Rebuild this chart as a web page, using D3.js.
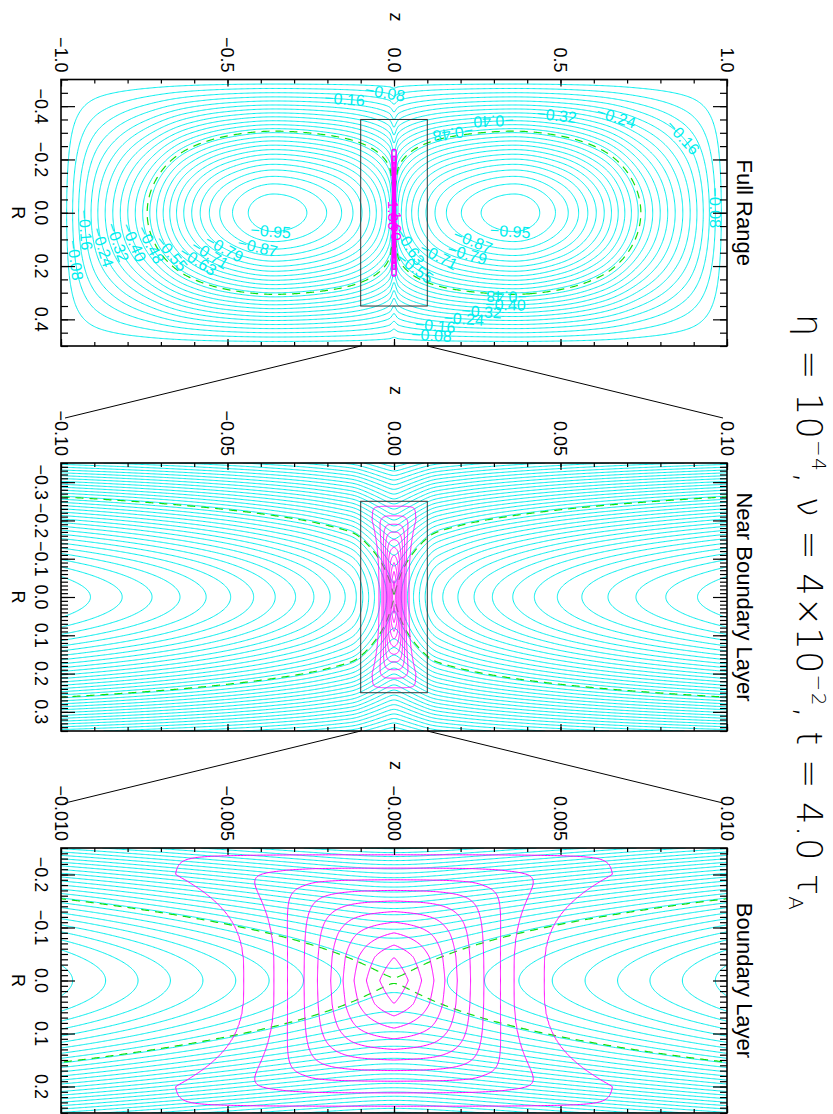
<!DOCTYPE html>
<html>
<head>
<meta charset="utf-8">
<script src="https://cdn.jsdelivr.net/npm/d3@7"></script>
<style>
  body { margin: 0; background: #fff; }
  svg { display: block; }
  text { font-family: "Liberation Sans", Arial, sans-serif; }
</style>
</head>
<body>
<svg id="chart" width="833" height="1114"></svg>
<script>
// ---- values ----
const panelTitles = ["Full Range", "Near Boundary Layer", "Boundary Layer"];
const zHalfRange = [1.0, 0.1, 0.01];
const rHalfRange = [0.5, 0.35, 0.25];
const zMajorTicks = [[-1, -0.5, 0, 0.5, 1], [-0.1, -0.05, 0, 0.05, 0.1], [-0.01, -0.005, 0, 0.005, 0.01]];
const zTickLabels = [["−1.0", "−0.5", "0.0", "0.5", "1.0"],
                     ["−0.10", "−0.05", "0.00", "0.05", "0.10"],
                     ["−0.010", "−0.005", "−0.000", "0.005", "0.010"]];
const zMinorStep = [0.1, 0.01, 0.001];
const rMajorTicks = [[-0.4, -0.2, 0, 0.2, 0.4], [-0.3, -0.2, -0.1, 0, 0.1, 0.2, 0.3], [-0.2, -0.1, 0, 0.1, 0.2]];
const rTickLabels = [["−0.4", "−0.2", "0.0", "0.2", "0.4"],
                     ["−0.3", "−0.2", "−0.1", "0.0", "0.1", "0.2", "0.3"],
                     ["−0.2", "−0.1", "0.0", "0.1", "0.2"]];
const rMinorStep = [0.05, 0.01, 0.01];
const psiLevelStep = [0.0396, 0.016, 0.0089];

// stream function along R = 0 outside the sheet, and the dip inside the sheet
const psiProfileZ = [0, 0.028, 0.1, 0.2, 0.36, 0.5, 0.62, 0.74, 0.83, 0.9, 1.0];
const psiProfileQ = [0.56, 0.655, 0.80, 0.91, 0.98, 0.895, 0.73, 0.5, 0.34, 0.215, 0];
const sheetDip = 0.06, sheetWidth = 0.0105;

// current density: half width at R=0, extra half width reached at R=0.2,
// and half length at z=0, for each magenta level
const jLevels = [1, 2, 3, 4, 5, 6, 7, 8, 9, 10];
const jHalfWidth = [0.0045, 0.0036, 0.0032, 0.0027, 0.0023, 0.0019, 0.00153, 0.0012, 0.00083, 0.00043];
const jWiden = [0.0021, 0.00096, 0.0002, 0, 0, 0, 0, 0, 0, 0];
const jHalfLength = [0.237, 0.212, 0.19, 0.17, 0.15, 0.13, 0.11, 0.09, 0.067, 0.044];

// contour labels of the full range panel: position (z, R) and level number
const labelZ = [-0.949, -0.928, -0.883, -0.832, -0.784, -0.742, -0.667, -0.592, -0.544, -0.508, -0.411, -0.372,
                -0.147, -0.027,
                0.297, 0.489, 0.67, 0.865, 0.964, 0.177, 0.348, 0.237, 0.219, 0.138, 0.063, 0.069,
                0.339, 0.333, 0.264, 0.207, 0.123, 0.114];
const labelR = [0.177, 0.065, 0.132, 0.113, 0.113, 0.128, 0.151, 0.185, 0.14, 0.132, 0.132, 0.084,
                -0.432, -0.459,
                -0.358, -0.366, -0.366, -0.283, -0.017, -0.302, 0.09, 0.102, 0.158, 0.151, 0.114, 0.2,
                0.308, 0.357, 0.383, 0.409, 0.439, 0.469];
const labelK = [2, 4, 6, 8, 10, 12, 14, 16, 18, 20, 22, 24,
                4, 2,
                10, 8, 6, 4, 2, 12, 24, 22, 20, 18, 16, 14,
                12, 10, 8, 6, 4, 2];
const labelFlipped = [14, 19, 26];

const cyan = "#00eeee", magenta = "#ff00ff", green = "#11dd11";
const xLeft = 61, xRight = 727;
const panelTop = [79.5, 463, 848], panelBottom = [346, 731, 1113];

const svg = d3.select("#chart");

function monotone(xs, ys) {
  const n = xs.length, d = [], m = new Array(n);
  for (let i = 0; i < n - 1; i++) d[i] = (ys[i + 1] - ys[i]) / (xs[i + 1] - xs[i]);
  m[0] = d[0]; m[n - 1] = d[n - 2];
  for (let i = 1; i < n - 1; i++) m[i] = d[i - 1] * d[i] <= 0 ? 0 : (d[i - 1] + d[i]) / 2;
  for (let i = 0; i < n - 1; i++) {
    if (d[i] === 0) continue;
    const a = m[i] / d[i], b = m[i + 1] / d[i], s = a * a + b * b;
    if (s > 9) { const t = 3 / Math.sqrt(s); m[i] = t * a * d[i]; m[i + 1] = t * b * d[i]; }
  }
  return x => {
    const i = Math.max(0, Math.min(n - 2, d3.bisectRight(xs, x) - 1));
    const h = xs[i + 1] - xs[i], t = (x - xs[i]) / h, t2 = t * t, t3 = t2 * t;
    return (2 * t3 - 3 * t2 + 1) * ys[i] + (t3 - 2 * t2 + t) * h * m[i]
         + (-2 * t3 + 3 * t2) * ys[i + 1] + (t3 - t2) * h * m[i + 1];
  };
}

const qOuter = monotone(psiProfileZ, psiProfileQ);
const smoothAbs = z => Math.sqrt(z * z + 1.44e-6) - 0.0012;
const softMin = (a, b, k) => -k * Math.log(Math.exp(-a / k) + Math.exp(-b / k));
const profileR = r => Math.cos(Math.PI * r) * Math.exp(-1.22 * r * r);

function psi(z, r) {
  const u = Math.min(smoothAbs(z), 1);
  const q = qOuter(u) - sheetDip * (1 - softMin(u, sheetWidth, 0.0008) / sheetWidth);
  return -profileR(r) * q;
}

const jPeak = jLevels.length + 1;
const jAlong = d3.scaleLinear()
  .domain([0].concat(jHalfLength.slice().reverse(), [0.27]))
  .range([jPeak].concat(jLevels.slice().reverse(), [0])).clamp(true);

// level value across the sheet: piecewise linear through the measured half widths
function jAcross(az, r) {
  const s = Math.pow(Math.min(Math.abs(r) / 0.2, 1), 3);
  let wPrev = 0.0075 + jWiden[0] * s, vPrev = 0;
  if (az >= wPrev) return 0;
  for (let k = 0; k <= jLevels.length; k++) {
    const w = k < jLevels.length ? jHalfWidth[k] + jWiden[k] * s : 0;
    const v = k < jLevels.length ? jLevels[k] : jPeak;
    if (az >= w) return vPrev + (v - vPrev) * (wPrev - az) / (wPrev - w);
    wPrev = w; vPrev = v;
  }
  return jPeak;
}

function current(z, r) {
  const a = jAcross(Math.abs(z), r) / jPeak, b = jAlong(Math.abs(r)) / jPeak;
  if (a <= 0 || b <= 0) return 0;
  return jPeak * Math.pow(Math.pow(a, -3) + Math.pow(b, -3) - 1, -1 / 3);
}

// sample a field on a grid and return its contours and grid -> data mapping
function contourField(fn, z0, z1, r0, r1, nx, ny, thresholds) {
  const values = new Float64Array(nx * ny);
  const dz = (z1 - z0) / (nx - 1), dr = (r1 - r0) / (ny - 1);
  for (let j = 0; j < ny; j++)
    for (let i = 0; i < nx; i++) values[i + j * nx] = fn(z0 + i * dz, r0 + j * dr);
  const levels = typeof thresholds === "function" ? thresholds(values) : thresholds;
  const contours = d3.contours().size([nx, ny]).thresholds(levels)(values);
  const toData = ([gx, gy]) => [z0 + (gx - 0.5) * dz, r0 + (gy - 0.5) * dr];
  return { contours, toData };
}

function pathFor(x, y, toData) {
  return d3.geoPath(d3.geoTransform({
    point(gx, gy) { const [z, r] = toData([gx, gy]); this.stream.point(x(z), y(r)); }
  }));
}

// the current sheet is the same field in every panel
const sheet = contourField(current, -0.0095, 0.0095, -0.28, 0.28, 440, 320, jLevels.map(v => v - 0.001));
const psiSaddle = psi(0, 0);

panelTitles.forEach((title, p) => {
  const zr = zHalfRange[p], rr = rHalfRange[p];
  const x = d3.scaleLinear().domain([-zr, zr]).range([xLeft, xRight]);
  const y = d3.scaleLinear().domain([-rr, rr]).range([panelTop[p], panelBottom[p]]);
  const g = svg.append("g");

  const clipId = "clip" + p;
  svg.append("clipPath").attr("id", clipId).append("rect")
    .attr("x", xLeft).attr("y", panelTop[p])
    .attr("width", xRight - xLeft).attr("height", panelBottom[p] - panelTop[p]);
  const plot = g.append("g").attr("clip-path", `url(#${clipId})`);

  const step = psiLevelStep[p];
  const field = contourField(psi, -zr, zr, -rr, rr, 560, 240, values => {
    const [lo, hi] = d3.extent(values);
    return d3.range(Math.ceil(lo / step), Math.ceil(hi / step)).map(k => k * step);
  });
  const path = pathFor(x, y, field.toData);

  plot.append("g").selectAll("path").data(field.contours).join("path")
    .attr("d", path).attr("fill", "none").attr("stroke", cyan).attr("stroke-width", 1);

  const sep = contourField(psi, -zr, zr, -rr, rr, 560, 240, [psiSaddle + 1e-4]);
  plot.append("g").selectAll("path").data(sep.contours).join("path")
    .attr("d", pathFor(x, y, sep.toData)).attr("fill", "none")
    .attr("stroke", green).attr("stroke-width", 1.2).attr("stroke-dasharray", "8,6");

  plot.append("g").selectAll("path").data(sheet.contours).join("path")
    .attr("d", pathFor(x, y, sheet.toData)).attr("fill", "none")
    .attr("stroke", magenta).attr("stroke-width", p === 0 ? 1.4 : 1);

  // contour labels on the full range panel
  if (p === 0) {
    labelZ.forEach((lz, i) => {
      const level = -labelK[i] * step;
      const c = field.contours.find(c => Math.abs(c.value - level) < 1e-6);
      if (!c) return;
      const ax = x(lz), ay = y(labelR[i]);
      let best = null, bestD = Infinity;
      c.coordinates.forEach(poly => poly.forEach(ring => {
        for (let k = 1; k < ring.length - 1; k++) {
          const [z, r] = field.toData(ring[k]);
          const px = x(z), py = y(r), dd = (px - ax) ** 2 + (py - ay) ** 2;
          if (dd < bestD) {
            const [za, ra] = field.toData(ring[Math.max(0, k - 3)]);
            const [zb, rb] = field.toData(ring[Math.min(ring.length - 1, k + 3)]);
            bestD = dd; best = [px, py, Math.atan2(y(rb) - y(ra), x(zb) - x(za)) * 180 / Math.PI];
          }
        }
      }));
      if (!best) return;
      let ang = best[2];
      if (ang > 90) ang -= 180;
      if (ang <= -90) ang += 180;
      if (labelFlipped.includes(i)) ang += 180;
      plot.append("text")
        .attr("transform", `translate(${best[0]},${best[1]}) rotate(${ang})`)
        .attr("text-anchor", "middle").attr("dy", "0.35em")
        .style("font-size", "16px").attr("fill", cyan)
        .text(level.toFixed(2).replace("-", "−"));
    });
    ["1.30", "1.60"].forEach((t, i) => {
      plot.append("text")
        .attr("transform", `translate(${x(0) - 6 + i * 3},${y(0.01 + i * 0.04)}) rotate(90)`)
        .attr("text-anchor", "middle").style("font-size", "15px").attr("fill", magenta).text(t);
    });
  }

  // inset rectangle showing the next panel's range
  if (p < 2) {
    const zn = zHalfRange[p + 1], rn = rHalfRange[p + 1];
    g.append("rect").attr("x", x(-zn)).attr("y", y(-rn))
      .attr("width", x(zn) - x(-zn)).attr("height", y(rn) - y(-rn))
      .attr("fill", "none").attr("stroke", "#333").attr("stroke-width", 1);
    svg.append("line").attr("x1", x(-zn)).attr("y1", y(rr)).attr("x2", xLeft + 4).attr("y2", panelTop[p + 1] - 45)
      .attr("stroke", "#000").attr("stroke-width", 1);
    svg.append("line").attr("x1", x(zn)).attr("y1", y(rr)).attr("x2", xRight - 4).attr("y2", panelTop[p + 1] - 45)
      .attr("stroke", "#000").attr("stroke-width", 1);
  }

  // frame and ticks
  g.append("rect").attr("x", xLeft).attr("y", panelTop[p])
    .attr("width", xRight - xLeft).attr("height", panelBottom[p] - panelTop[p])
    .attr("fill", "none").attr("stroke", "#000").attr("stroke-width", 1.6);

  const zMinor = d3.range(-Math.round(zr / zMinorStep[p]), Math.round(zr / zMinorStep[p]) + 1).map(k => k * zMinorStep[p]);
  const rMinor = d3.range(-Math.floor(rr / rMinorStep[p] + 1e-9), Math.floor(rr / rMinorStep[p] + 1e-9) + 1).map(k => k * rMinorStep[p]);
  const tickAxis = (axis, values, size, tx, ty) => {
    g.append("g").attr("transform", `translate(${tx},${ty})`)
      .call(axis.tickValues(values).tickSize(-size).tickFormat(""))
      .call(a => a.select(".domain").remove())
      .call(a => a.selectAll("line").attr("stroke", "#000").attr("stroke-width", 1.2));
  };
  tickAxis(d3.axisTop(x), zMinor, 4, 0, panelTop[p]);
  tickAxis(d3.axisBottom(x), zMinor, 4, 0, panelBottom[p]);
  tickAxis(d3.axisTop(x), zMajorTicks[p], 7, 0, panelTop[p]);
  tickAxis(d3.axisBottom(x), zMajorTicks[p], 7, 0, panelBottom[p]);
  tickAxis(d3.axisLeft(y), rMinor, 7, xLeft, 0);
  tickAxis(d3.axisRight(y), rMinor, 7, xRight, 0);
  tickAxis(d3.axisLeft(y), rMajorTicks[p], 14, xLeft, 0);
  tickAxis(d3.axisRight(y), rMajorTicks[p], 14, xRight, 0);

  // rotated tick labels
  let longest = 0;
  zMajorTicks[p].forEach((v, i) => {
    const t = g.append("text").attr("transform", `translate(${x(v) - 6.5},${panelTop[p] - 7}) rotate(90)`)
      .attr("text-anchor", "end").style("font-size", "18px").text(zTickLabels[p][i]);
    longest = Math.max(longest, t.node().getComputedTextLength());
  });
  rMajorTicks[p].forEach((v, i) => {
    g.append("text").attr("transform", `translate(35,${y(v)}) rotate(90)`)
      .attr("text-anchor", "middle").style("font-size", "18px").text(rTickLabels[p][i]);
  });
  const midY = (panelTop[p] + panelBottom[p]) / 2;
  g.append("text").attr("transform", `translate(${(xLeft + xRight) / 2 - 4},${panelTop[p] - 7 - longest - 20}) rotate(90)`)
    .attr("text-anchor", "middle").style("font-size", "18px").text("z");
  g.append("text").attr("transform", `translate(12,${midY}) rotate(90)`)
    .attr("text-anchor", "middle").style("font-size", "18px").text("R");
  g.append("text").attr("transform", `translate(737,${midY}) rotate(90)`)
    .attr("text-anchor", "middle").style("font-size", "22px").text(title);
});

// title
const title = svg.append("text").attr("transform", "translate(797,612) rotate(90)")
  .attr("text-anchor", "middle").attr("textLength", 596).attr("lengthAdjust", "spacing")
  .style("font-family", "'DejaVu Sans', sans-serif").style("font-weight", 200).style("font-size", "35px");
title.append("tspan").text("η = 10");
title.append("tspan").attr("dy", -15).style("font-size", "20px").text("−4");
title.append("tspan").attr("dy", 15).text(", ν = 4×10");
title.append("tspan").attr("dy", -15).style("font-size", "20px").text("−2");
title.append("tspan").attr("dy", 15).text(", t = 4.0 τ");
title.append("tspan").attr("dy", 8).style("font-size", "20px").text("A");
</script>
</body>
</html>
